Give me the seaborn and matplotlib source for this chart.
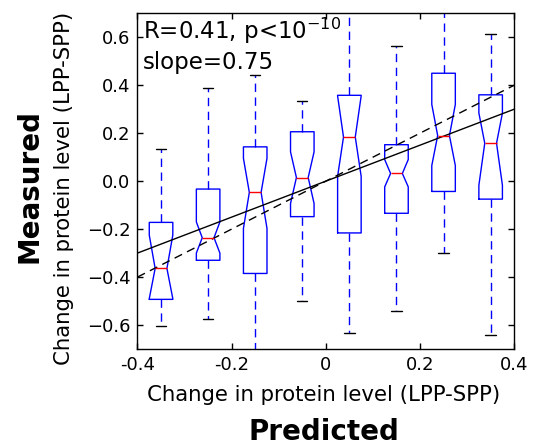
import matplotlib
matplotlib.use("Agg")
import matplotlib.pyplot as plt
import seaborn as sns
import numpy as np

# ---- data ----
positions = [-0.35, -0.25, -0.15, -0.05, 0.05, 0.15, 0.25, 0.35]
whislo = [-0.603, -0.575, -0.80, -0.500, -0.635, -0.542, -0.300, -0.642]
q1 = [-0.493, -0.330, -0.385, -0.148, -0.216, -0.134, -0.043, -0.075]
cilo = [-0.490, -0.300, -0.197, -0.093, 0.020, -0.024, 0.065, -0.017]
med = [-0.364, -0.236, -0.047, 0.015, 0.184, 0.032, 0.190, 0.158]
cihi = [-0.225, -0.170, 0.095, 0.122, 0.355, 0.090, 0.320, 0.284]
q3 = [-0.172, -0.033, 0.143, 0.206, 0.358, 0.152, 0.450, 0.360]
whishi = [0.132, 0.390, 0.442, 0.333, 0.80, 0.563, 0.80, 0.612]

fit_slope = 0.75
fit_intercept = 0.0
identity_slope = 1.0

xticks = [-0.4, -0.2, 0.0, 0.2, 0.4]
xticklabels = ["-0.4", "-0.2", "0", "0.2", "0.4"]
yticks = [-0.6, -0.4, -0.2, 0.0, 0.2, 0.4, 0.6]
yticklabels = ["\u22120.6", "\u22120.4", "\u22120.2", "0.0", "0.2", "0.4", "0.6"]

annot_line1 = r"R=0.41, p<10$^{-10}$"
annot_line2 = "slope=0.75"
axis_label = "Change in protein level (LPP-SPP)"
x_title = "Predicted"
y_title = "Measured"

# ---- style ----
sns.set_style("ticks", {"xtick.direction": "in", "ytick.direction": "in"})
plt.rcParams["font.family"] = ["DejaVu Sans"]
plt.rcParams["mathtext.fontset"] = "dejavusans"
plt.rcParams["text.color"] = "black"
plt.rcParams["axes.labelcolor"] = "black"
plt.rcParams["xtick.color"] = "black"
plt.rcParams["ytick.color"] = "black"
plt.rcParams["axes.edgecolor"] = "black"

fig = plt.figure(figsize=(5.35, 4.46), dpi=100)
ax = fig.add_axes([0.257, 0.2175, 0.7041, 0.7527])

stats = []
for i in range(len(positions)):
    stats.append(dict(med=med[i], q1=q1[i], q3=q3[i], whislo=whislo[i],
                      whishi=whishi[i], cilo=cilo[i], cihi=cihi[i], fliers=[]))

ax.bxp(stats, positions=positions, widths=0.05, shownotches=True, showfliers=False,
       capwidths=0.022, manage_ticks=False,
       boxprops=dict(color="#0000ff", linewidth=1.0),
       whiskerprops=dict(color="#0000ff", linewidth=1.0, linestyle=(0, (6, 4))),
       capprops=dict(color="black", linewidth=1.0),
       medianprops=dict(color="#ff0000", linewidth=1.0))

xl = np.array([xticks[0], xticks[-1]])
sns.lineplot(x=xl, y=fit_slope * xl + fit_intercept, color="black", linewidth=1.0, ax=ax)
sns.lineplot(x=xl, y=identity_slope * xl, color="black", linewidth=1.0, ax=ax,
             linestyle=(0, (6, 4)))

ax.set_xlim(-0.4, 0.4)
ax.set_ylim(-0.7, 0.7)
ax.set_xticks(xticks)
ax.set_xticklabels(xticklabels)
ax.set_yticks(yticks)
ax.set_yticklabels(yticklabels)
ax.tick_params(axis="both", which="major", direction="in", length=4, width=1,
               labelsize=13, pad=5, top=True, right=True, color="black",
               labelcolor="black")
for s in ax.spines.values():
    s.set_visible(True)
    s.set_linewidth(1.0)
    s.set_color("black")

ax.text(0.015, 0.9226, annot_line1, transform=ax.transAxes, fontsize=16.5,
        ha="left", va="baseline", color="black")
ax.text(0.015, 0.8336, annot_line2, transform=ax.transAxes, fontsize=16.5,
        ha="left", va="baseline", color="black")

fig.text(0.605, 0.101, axis_label, fontsize=15.3, ha="center", va="baseline", color="black")
fig.text(0.605, 0.013, x_title, fontsize=20, fontweight="bold", ha="center", va="baseline", color="black")
fig.text(0.12, 0.578, axis_label, fontsize=15.3, ha="center", va="center", rotation=90, color="black")
fig.text(0.056, 0.583, y_title, fontsize=20, fontweight="bold", ha="center", va="center", rotation=90, color="black")

fig.savefig("out.png", dpi=100)
